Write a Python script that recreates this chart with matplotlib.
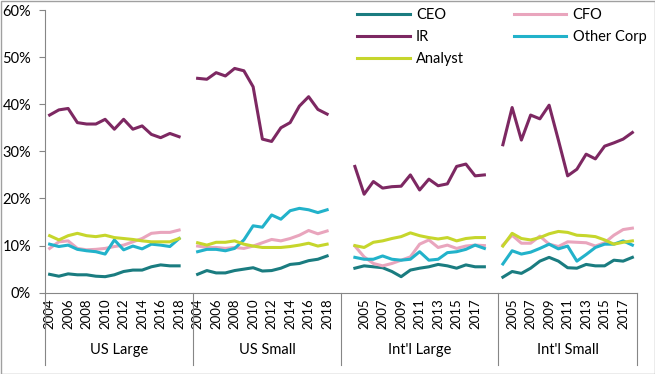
import matplotlib
matplotlib.use('Agg')
import matplotlib.pyplot as plt
import matplotlib.transforms as mtransforms
from matplotlib.patches import Rectangle

plt.rcParams['font.family'] = ['Lato', 'DejaVu Sans']

groups = ["US Large", "US Small", "Int'l Large", "Int'l Small"]
years = list(range(2004, 2019))

# values in %, one list per group (US Large, US Small, Int'l Large, Int'l Small), years 2004-2018
ceo = [
    [3.9, 3.5, 4.0, 3.8, 3.8, 3.5, 3.4, 3.8, 4.5, 4.8, 4.8, 5.5, 5.9, 5.7, 5.7],
    [3.9, 4.7, 4.2, 4.2, 4.7, 5.0, 5.3, 4.6, 4.7, 5.2, 6.0, 6.2, 6.8, 7.1, 7.8],
    [5.2, 5.7, 5.5, 5.3, 4.5, 3.4, 4.8, 5.2, 5.5, 6.0, 5.7, 5.2, 5.9, 5.5, 5.5],
    [3.3, 4.5, 4.1, 5.2, 6.7, 7.5, 6.7, 5.3, 5.2, 6.0, 5.7, 5.7, 6.9, 6.7, 7.5],
]
cfo = [
    [9.4, 10.8, 11.0, 9.4, 9.1, 9.2, 9.4, 9.8, 10.1, 10.8, 11.5, 12.6, 12.8, 12.8, 13.3],
    [9.9, 9.6, 9.6, 9.4, 9.6, 9.4, 9.9, 10.6, 11.3, 11.0, 11.5, 12.2, 13.2, 12.5, 13.1],
    [9.9, 7.6, 6.2, 5.7, 6.2, 6.9, 7.6, 10.3, 11.2, 9.6, 10.1, 9.4, 9.9, 10.1, 10.0],
    [10.1, 12.2, 10.5, 10.5, 12.0, 10.3, 9.8, 10.8, 10.7, 10.6, 9.9, 10.6, 12.2, 13.4, 13.7],
]
ir = [
    [37.7, 38.8, 39.1, 36.1, 35.8, 35.8, 36.8, 34.7, 36.8, 34.7, 35.4, 33.6, 32.9, 33.8, 33.1],
    [45.5, 45.3, 46.7, 46.0, 47.6, 47.1, 43.7, 32.6, 32.1, 35.0, 36.1, 39.6, 41.6, 38.9, 37.9],
    [26.8, 20.9, 23.6, 22.2, 22.5, 22.6, 25.0, 21.8, 24.1, 22.7, 23.1, 26.8, 27.3, 24.8, 25.0],
    [31.4, 39.3, 32.4, 37.7, 36.9, 39.8, 32.4, 24.8, 26.2, 29.4, 28.4, 31.1, 31.8, 32.6, 34.0],
]
other_corp = [
    [10.3, 9.8, 10.1, 9.2, 8.9, 8.7, 8.2, 11.2, 9.1, 9.9, 9.3, 10.3, 10.1, 9.8, 11.5],
    [8.7, 9.2, 9.2, 8.9, 9.4, 11.2, 14.2, 13.9, 16.5, 15.6, 17.4, 17.9, 17.6, 17.0, 17.6],
    [7.5, 7.1, 7.1, 7.8, 7.1, 6.9, 7.1, 8.7, 6.9, 7.1, 8.5, 8.7, 9.2, 10.1, 9.4],
    [6.1, 8.9, 8.2, 8.6, 9.4, 10.3, 9.3, 9.9, 6.7, 8.1, 9.6, 10.3, 10.3, 11.0, 10.1],
]
analyst = [
    [12.1, 11.2, 12.1, 12.6, 12.1, 11.9, 12.2, 11.7, 11.5, 11.3, 11.0, 10.8, 10.8, 10.8, 11.5],
    [10.6, 10.1, 10.7, 10.7, 11.0, 10.3, 9.9, 9.6, 9.6, 9.6, 9.8, 10.1, 10.5, 9.9, 10.3],
    [10.0, 9.6, 10.7, 11.0, 11.5, 11.9, 12.7, 12.1, 11.7, 11.4, 11.7, 11.0, 11.5, 11.7, 11.7],
    [9.9, 12.6, 11.5, 11.2, 11.7, 12.5, 13.0, 12.8, 12.2, 12.1, 11.9, 11.2, 10.3, 10.7, 11.0],
]

series_names = ['CEO', 'CFO', 'IR', 'Other Corp', 'Analyst']
series_data = [ceo, cfo, ir, other_corp, analyst]
colors = ['#1A7C80', '#E9A5BD', '#7D2862', '#22B2CA', '#C6D62C']

# category slots on the axis (excel-like multi level axis with blank slots)
first_slot = [0, 16, 33, 49]
bounds = [0, 16, 32, 49, 64]

fig = plt.figure(figsize=(6.55, 3.74), dpi=100)
ax = fig.add_axes([45/655, 1 - 292.7/374, 592/655, 282.7/374])

handles = {}
for name, data, c in zip(series_names, series_data, colors):
    for g in range(len(groups)):
        xs = [first_slot[g] + i + 0.5 for i in range(len(years))]
        ln, = ax.plot(xs, data[g], color=c, lw=2.2, solid_joinstyle='round')
    handles[name] = ln

ax.set_xlim(0, 64)
ax.set_ylim(0, 60)
ax.set_yticks(range(0, 61, 10))
ax.set_yticklabels([f'{v}%' for v in range(0, 61, 10)])
ax.tick_params(axis='y', length=4, width=0.8, color='#868686', labelsize=10.5, pad=6)

tick_pos = []
tick_lab = []
for g in range(len(groups)):
    for i, y in enumerate(years):
        s = first_slot[g] + i
        if s % 2 == 0:
            tick_pos.append(s + 0.5)
            tick_lab.append(str(y))
ax.set_xticks(tick_pos)
ax.set_xticklabels(tick_lab, rotation=90, fontsize=9.5)
ax.tick_params(axis='x', length=0, pad=4)

for sp in ['top', 'right']:
    ax.spines[sp].set_visible(False)
for sp in ['left', 'bottom']:
    ax.spines[sp].set_color('#868686')
    ax.spines[sp].set_linewidth(0.8)

trans = mtransforms.blended_transform_factory(ax.transData, ax.transAxes)
for b in bounds:
    ax.plot([b, b], [0, -0.2557], transform=trans, color='#868686', lw=0.8, clip_on=False)
for g, name in enumerate(groups):
    ax.text((bounds[g] + bounds[g + 1]) / 2, -0.203, name, transform=trans,
            ha='center', va='center', fontsize=10.5)

order = ['CEO', 'IR', 'Analyst', 'CFO', 'Other Corp']
fig.legend([handles[n] for n in order], order, loc='upper left',
           bbox_to_anchor=(357/655, 1 - 8/374), ncol=2, frameon=False,
           fontsize=10.5, handlelength=3.6, handletextpad=0.45,
           columnspacing=3.4, labelspacing=0.55, borderpad=0, borderaxespad=0)

fig.add_artist(Rectangle((0.5/655, 0.5/374), 1 - 1/655, 1 - 1/374, transform=fig.transFigure,
                         fill=False, edgecolor='#A0A0A0', lw=1))

fig.savefig('out.png', dpi=100)
